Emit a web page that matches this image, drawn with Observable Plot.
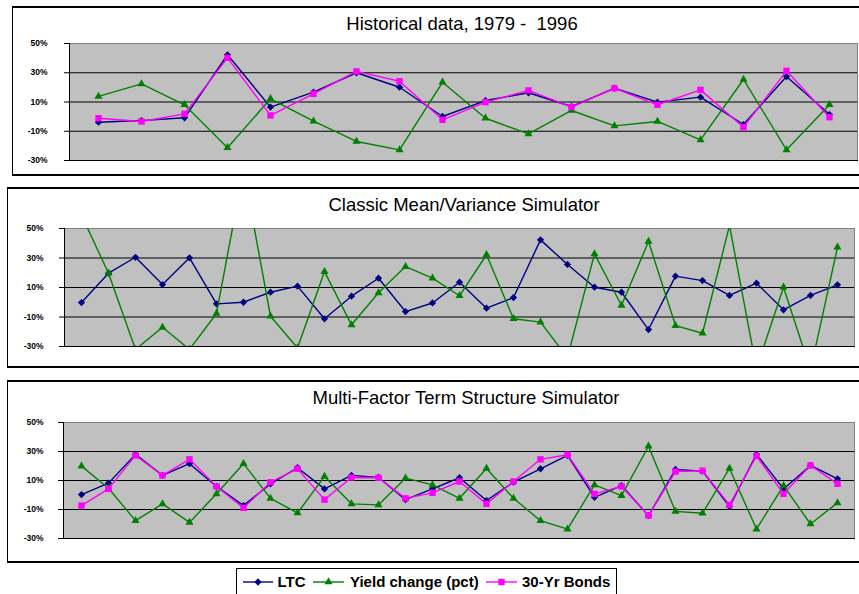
<!DOCTYPE html>
<html><head><meta charset="utf-8">
<script src="https://cdn.jsdelivr.net/npm/d3@7"></script>
<script src="https://cdn.jsdelivr.net/npm/@observablehq/plot@0.6"></script>
<style>
html,body{margin:0;padding:0;background:#fff;}
body{width:859px;height:594px;overflow:hidden;position:relative;font-family:Arial,"Liberation Sans",sans-serif;}
.panel{position:absolute;border-top:2px solid #000;border-bottom:2px solid #000;border-left:1.5px solid #000;box-sizing:border-box;width:900px;}
.title{position:absolute;font-size:18.5px;line-height:18.5px;white-space:pre;transform:translateX(-50%);color:#000;}
.chart{position:absolute;left:0;}
.legend{position:absolute;left:236px;top:568px;width:381px;height:40px;border:1.5px solid #000;box-sizing:border-box;background:#fff;}
.legend svg{position:absolute;left:-237px;top:-569px;}
</style></head><body>
<div class="panel" style="left:12px;top:6px;height:170px"></div>
<div class="panel" style="left:7px;top:187px;height:181px"></div>
<div class="panel" style="left:7px;top:380px;height:183px"></div>
<div class="title" style="left:462px;top:15px">Historical data, 1979 -  1996</div>
<div class="title" style="left:464px;top:196px">Classic Mean/Variance Simulator</div>
<div class="title" style="left:466px;top:389px">Multi-Factor Term Structure Simulator</div>
<div id="c1" class="chart" style="top:35px"></div>
<div id="c2" class="chart" style="top:220px"></div>
<div id="c3" class="chart" style="top:414px"></div>
<div class="legend" id="legend"></div>
<script>
// ---- data ----
const yTicks = [-30, -10, 10, 30, 50];
const seriesNames = ["LTC", "Yield change (pct)", "30-Yr Bonds"];
const seriesColors = ["#000080", "#008000", "#ff00ff"];

const histYears = [1979,1980,1981,1982,1983,1984,1985,1986,1987,1988,1989,1990,1991,1992,1993,1994,1995,1996];
const histLTC   = [-3.8,-2.7,-0.8,42.3,6.5,16.7,30,20.1,0.1,11,16.3,6.9,19.4,9.9,13.3,-5.4,27.4,1.4];
const histYield = [13.8,22.4,8.1,-21.3,12.2,-3.1,-17,-22.7,23.5,-1.1,-11.8,4.2,-6.3,-3.3,-15.9,25.4,-22.7,8.1];
const histBonds = [-1.1,-3.3,1.9,40.2,0.8,15.6,30.9,24.2,-2.2,9.9,17.9,6.5,19.4,8.1,18.3,-7.2,31.3,-0.4];

const mvLTC   = [-0.2,19.7,30.5,12,30.1,-1.1,0,6.8,10.9,-11.2,4.1,16.3,-6.3,-0.5,13.6,-4,3.2,42.3,25.6,10.2,6.8,-18.5,17.7,14.7,4.6,12.9,-5.1,4.6,11.8];
const mvYield = [59,19.7,-32,-17,-32,-7.6,90,-9.5,-31,20.8,-15.3,6.4,24.2,16.3,4.4,32.2,-11.2,-13.5,-37.5,32.8,-2.2,41.2,-15.8,-21,52,-45,10.2,-46,37.3];

const mfLTC   = [0.3,8.2,28,13.5,21.6,5.9,-7.3,7.7,18.8,4.2,13.5,12.1,-3.2,4.2,11.9,-3.8,8.8,18.1,27.3,-1.6,6.5,-14.2,17.6,16.5,-8,28,4.2,20.4,11.2];
const mfYield = [19.9,4.7,-17.7,-6.1,-18.9,0.8,21.6,-2.3,-12.4,12.8,-6.1,-6.8,11.6,7,-2.3,18.3,-2.3,-17.7,-23.5,7,-0.4,33.6,-11.3,-12.6,18.3,-23.5,6.5,-20,-5.4];
const mfBonds = [-7.3,4.2,27.3,13.5,24.6,5.9,-8.9,8.8,18.1,-3.2,12.1,11.9,-2.3,1.5,9.3,-6.1,9.3,24.6,27.8,0.8,5.9,-14.2,16.2,16.7,-6.8,26.9,0.8,20.4,7.7];

// ---- drawing ----
// diamond = square rotated 45°
const symbols = ["square", "triangle", "square"];
const symRot = [45, 0, 0];
const symR = [2.9, 3.0, 3.6];

function panel(el, cats, seriesList, opt) {
  const marks = [
    Plot.frame({fill: "#c0c0c0", stroke: "#808080"}),
    Plot.ruleY([-10, 10, 30], {stroke: "#000", strokeWidth: 1}),
    Plot.axisY({ticks: yTicks, tickFormat: d => d + "%", tickSize: 5, tickPadding: opt.pad, label: null,
      fontWeight: "bold", fontSize: 8.5, fill: "#000"}),
    Plot.frame({anchor: "left", stroke: "#000"}),
    Plot.frame({anchor: "bottom", stroke: "#000"})
  ];
  for (const [k, vals] of seriesList) {
    const data = vals.map((v, i) => ({c: cats[i], v}));
    marks.push(Plot.line(data, {x: "c", y: "v", stroke: seriesColors[k], strokeWidth: 1.4, clip: true}));
    marks.push(Plot.dot(data, {x: "c", y: "v", symbol: () => symbols[k], rotate: symRot[k], fill: seriesColors[k], r: symR[k], stroke: "none", clip: true}));
  }
  const p = Plot.plot({
    width: 859, height: opt.h, marginTop: opt.mt, marginBottom: opt.mb, marginLeft: opt.ml, marginRight: opt.mr,
    style: {background: "transparent", color: "#000", fontFamily: "Arial, 'Liberation Sans', sans-serif"},
    x: {type: "point", domain: cats, padding: 0.5, axis: null},
    y: {domain: [-30, 50], axis: null},
    symbol: {type: "identity"},
    marks
  });
  document.getElementById(el).appendChild(p);
}

const sims = d3.range(1, 30);
panel("c1", histYears, [[0, histLTC], [1, histYield], [2, histBonds]], {h: 135, mt: 8, mb: 10, ml: 69, mr: 2, pad: 17});
panel("c2", sims, [[0, mvLTC], [1, mvYield]], {h: 135, mt: 8, mb: 9, ml: 64, mr: 5, pad: 16});
panel("c3", sims, [[0, mfLTC], [1, mfYield], [2, mfBonds]], {h: 133, mt: 8, mb: 9, ml: 63, mr: 5, pad: 15});

// ---- legend ----
const lg = d3.select("#legend").append("svg").attr("width", 859).attr("height", 594);
const items = [
  {x0: 243, x1: 273, tx: 277.5},
  {x0: 313, x1: 344, tx: 350},
  {x0: 486, x1: 517, tx: 522}
];
items.forEach((it, k) => {
  const g = lg.append("g");
  g.append("line").attr("x1", it.x0).attr("x2", it.x1).attr("y1", 582).attr("y2", 582)
    .attr("stroke", seriesColors[k]).attr("stroke-width", 1.4);
  const sym = [d3.symbolSquare, d3.symbolTriangle, d3.symbolSquare][k];
  g.append("path").attr("d", d3.symbol(sym, Math.PI * symR[k] * symR[k])())
    .attr("transform", `translate(${(it.x0 + it.x1) / 2},582) rotate(${symRot[k]})`).attr("fill", seriesColors[k]);
  g.append("text").attr("x", it.tx).attr("y", 587.3).text(seriesNames[k])
    .attr("font-family", "Arial, 'Liberation Sans', sans-serif").attr("font-weight", "bold").attr("font-size", 15);
});
</script>
</body></html>
